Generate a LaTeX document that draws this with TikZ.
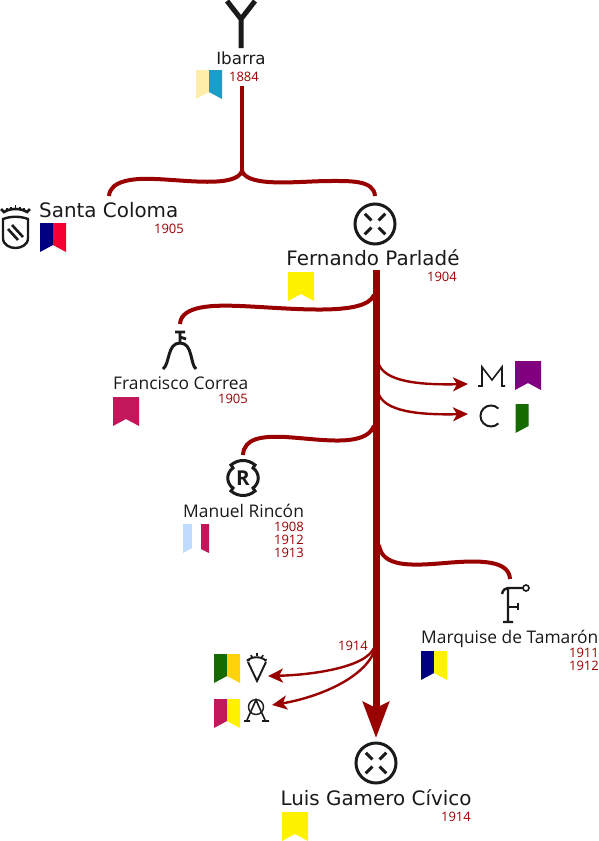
\documentclass[tikz,border=0pt]{standalone}
\usepackage{xcolor}
\usepackage{fontspec}
\usetikzlibrary{arrows.meta, positioning}
\setmainfont{DejaVu Sans}
\newfontfamily\slimfont{Open Sans}
\definecolor{lineage}{HTML}{990000}
\definecolor{ink}{HTML}{1A1A1A}
\definecolor{straw}{HTML}{FFEEAA}
\definecolor{sky}{HTML}{1F9BC7}
\definecolor{navy}{HTML}{000080}
\definecolor{scarlet}{HTML}{F50030}
\definecolor{gold}{HTML}{FFF200}
\definecolor{amber}{HTML}{FFD20A}
\definecolor{crimson}{HTML}{C2185B}
\definecolor{plum}{HTML}{800080}
\definecolor{leaf}{HTML}{156A00}
\definecolor{pale}{HTML}{BFDBFF}

\tikzset{
  bigname/.style={font=\fontsize{19.9}{20}\selectfont, text=ink, inner sep=0pt},
  midname/.style={font=\slimfont\fontsize{17.4}{17.4}\selectfont, text=ink, inner sep=0pt},
  year/.style={font=\slimfont\fontsize{13}{12.8}\selectfont, text=lineage, inner sep=0pt, align=right},
  trunk/.style={draw=lineage, line width=7pt},
  branch/.style={draw=lineage, line width=4pt, line cap=butt},
  sprout/.style={draw=lineage, line width=2.4pt, -{Stealth[length=15pt, width=14pt, inset=4pt]}},
  brand/.style={draw=ink, line width=2pt},
}
% pennant: top left corner, left colour, right colour
\newcommand{\pennant}[3]{
  \fill[#2] (#1) ++(0,0) -- ++(13,0) -- ++(0,22) -- ++(-13,7) -- cycle;
  \fill[#3] (#1) ++(13,0) -- ++(13,0) -- ++(0,29) -- ++(-13,-7) -- cycle;
}
% crossed circle of the two Gamero Civico brands
\newcommand{\crossmark}[1]{
  \draw[brand, line width=3pt] (#1) circle (20);
  \foreach \a in {45,135,225,315}
    \draw[brand, line width=3pt] (#1) ++(\a:5) -- ++(\a:9.5);
}

\begin{document}
\begin{tikzpicture}[x=1pt, y=-1pt]
  \useasboundingbox (0,0) rectangle (599,841);

  % names
  \node[midname, font=\fontsize{16.7}{17}\selectfont] (ibarra) at (241,58) {Ibarra};
  \node[bigname, anchor=base west] (coloma) at (39,217.5) {Santa Coloma};
  \node[bigname, anchor=base] (parlade) at (373,265) {Fernando Parladé};
  \node[midname, anchor=base west] (correa) at (113,389) {Francisco Correa};
  \node[midname, anchor=base west] (rincon) at (183,517) {Manuel Rincón};
  \node[midname, anchor=base west] (tamaron) at (421,643) {Marquise de Tamarón};
  \node[bigname, anchor=base] (gamero) at (376,805) {Luis Gamero Cívico};

  % years
  \node[year, anchor=base east] (y1884) at (259,81) {1884};
  \node[year, anchor=base east] (y1905a) at (184,233) {1905};
  \node[year, anchor=base east] (y1904) at (457,281) {1904};
  \node[year, anchor=base east] (y1905b) at (248,403) {1905};
  \node[year, anchor=north east] (y1908) at (304,522) {1908\\1912\\1913};
  \node[year, anchor=north east] (y1911) at (599,648) {1911\\1912};
  \node[year, anchor=base east] (y1914a) at (368,650) {1914};
  \node[year, anchor=base east] (y1914b) at (471,821) {1914};

  % pennants
  \pennant{196,70}{straw}{sky}
  \pennant{40,223}{navy}{scarlet}
  \pennant{288,272}{gold}{gold}
  \pennant{113,397}{crimson}{crimson}
  \pennant{183,524}{pale}{white}
  \fill[crimson] (201,524) -- (209,524) -- (209,553) -- (201,549) -- cycle;
  \fill[white] (192,524) rectangle (201,553);
  \pennant{515,361}{plum}{plum}
  \fill[leaf] (515.5,404) -- (528.5,404) -- (528.5,426) -- (515.5,433) -- cycle;
  \pennant{421,651}{navy}{gold}
  \pennant{214,654}{leaf}{amber}
  \pennant{214,699}{crimson}{gold}
  \pennant{282,812}{gold}{gold}

  % brands
  \draw[brand, line width=5pt] (241,48) -- (241,19) (227,1) -- (241,19) -- (255,1);
  \coordinate (ibarrafoot) at (242,86);
  \coordinate (split) at (242,171);
  \coordinate (colomatop) at (109,196);
  \coordinate (parladetop) at (375,196);
  \crossmark{375,224}
  \crossmark{376,763}

  \draw[brand, line width=2.6pt] (1,209) -- (4,212) .. controls (10,208) and (21,208) .. (27,212) -- (30,209);
  \foreach \x/\y in {7/208, 11/207, 15.5/205, 20/207, 24/208}
    \draw[brand, line width=1.8pt] (\x,\y) -- ++(0,3);
  \draw[brand, line width=2.4pt] (3,219) -- (3,238) .. controls (3,245) and (10,248) .. (15.5,248)
    .. controls (21,248) and (28,245) .. (28,238) -- (28,219)
    .. controls (20,216) and (11,216) .. cycle;
  \draw[brand, line width=2.6pt] (8,229) -- (18,240) (12,225) -- (23,237);

  \draw[brand, line width=2.8pt] (175,332) -- (185,332) (180,332) -- (180,343) (180,337) -- (186,339);
  \draw[brand, line width=3pt] (163,369) .. controls (170,364) and (167,343) .. (180,343)
    .. controls (193,343) and (190,364) .. (196,369);

  \draw[brand, line width=3pt] (233,468) -- (231,465) .. controls (238,459) and (248,459) .. (255,465) -- (253,468)
    .. controls (260,473) and (260,483) .. (253,488) -- (255,491)
    .. controls (248,497) and (238,497) .. (231,491) -- (233,488)
    .. controls (226,483) and (226,473) .. cycle;
  \node[font=\slimfont\bfseries\fontsize{20.5}{20.5}\selectfont, text=ink, inner sep=0pt] (rmark) at (243,478) {R};

  \draw[brand, line width=1.6pt] (478,386) -- (482,386) -- (482,367) -- (492,380) -- (502,367) -- (502,386) -- (505,386);
  \draw[brand] (498.4,423.4) arc (45:315:10.5);

  \draw[brand, line width=2.4pt] (503,622) -- (513,622) (508,622) -- (508,588)
    (502,594) .. controls (503,590) and (505,588) .. (508,588) -- (523,588);
  \draw[brand, line width=2.4pt] (508,607) -- (518,607) (518,603) -- (518,610);
  \draw[brand, line width=1.6pt] (526,588) circle (3);

  \draw[brand, line width=1.9pt] (248,662) -- (257,681) -- (266,662);
  \draw[brand, line width=1.9pt] (247,661) .. controls (251,656) and (262,656) .. (266,661);
  \foreach \a in {25,55,90,125,155}
    \draw[brand, line width=1.6pt] (257,664) ++(-\a:8) -- ++(-\a:2.8);

  \draw[brand, line width=1.4pt] (256,707) circle (7.5);
  \draw[brand, line width=1.6pt] (247,720) -- (256,700) -- (265,720) (244,721) -- (250,721) (262,721) -- (269,721);

  % lineage
  \coordinate (trunktop) at (376,270);
  \coordinate (gamerotop) at (376,738);
  \draw[trunk, -{Stealth[length=36pt, width=26pt, inset=6pt]}] (trunktop) -- (gamerotop);
  \draw[branch] (ibarrafoot) -- (split);
  \draw[branch] (colomatop) .. controls (110,180) and (135,178) .. (155,179)
    .. controls (185,180) and (236,188) .. (split);
  \draw[branch] (parladetop) .. controls (374,180) and (350,181) .. (330,181)
    .. controls (300,181) and (248,188) .. (split);

  \coordinate (correatop) at (180,324);
  \coordinate (rincontop) at (243,455);
  \coordinate (tamarontop) at (510,579);
  \coordinate (mmark) at (468,384);
  \coordinate (cmark) at (468,414);
  \coordinate (vmark) at (268,676);
  \coordinate (amark) at (272,705);
  \draw[branch] (correatop) .. controls (181,305) and (215,305) .. (240,306)
    .. controls (290,308) and (365,317) .. (374,295);
  \draw[branch] (rincontop) .. controls (244,438) and (262,436) .. (285,437)
    .. controls (320,439) and (365,448) .. (374,426);
  \draw[branch] (tamarontop) .. controls (509,560) and (480,560) .. (445,563)
    .. controls (410,566) and (382,567) .. (379,545);
  \draw[sprout] (378,362) .. controls (383,382) and (420,385) .. (mmark);
  \draw[sprout] (378,392) .. controls (383,412) and (420,415) .. (cmark);
  \draw[sprout] (374,648) .. controls (365,668) and (310,675) .. (vmark);
  \draw[sprout] (374,652) .. controls (362,680) and (315,698) .. (amark);
\end{tikzpicture}
\end{document}
